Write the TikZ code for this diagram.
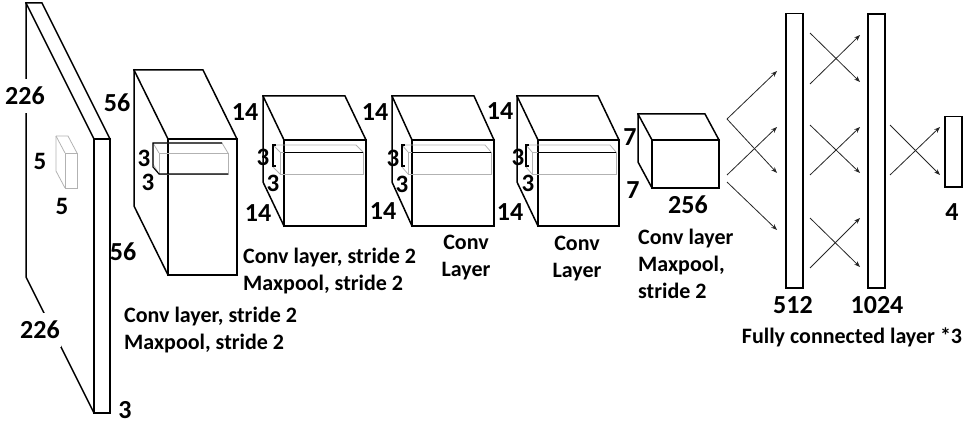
\documentclass[tikz,border=0pt]{standalone}
\usepackage{fontspec}
\setmainfont{Carlito}
\usetikzlibrary{arrows.meta}
\tikzset{
  edge/.style={line width=1.5pt, line join=miter, line cap=rect},
  filt/.style={gray!60, line width=0.8pt},
  filtdark/.style={black, line width=1.1pt},
  num/.style={font=\fontsize{26}{26}\selectfont\bfseries, inner sep=1pt},
  smallnum/.style={font=\fontsize{25}{25}\selectfont\bfseries, inner sep=0.5pt},
  txt/.style={font=\fontsize{22}{27}\selectfont\bfseries, inner sep=0pt},
  fc/.style={draw, line width=1.5pt, inner sep=0pt, anchor=north west},
  link/.style={line width=0.8pt, draw=black!85, -{Stealth[length=6pt,width=4.5pt]}},
}
% style, back-top-left x,y, front-top-left x,y, width, height
\newcommand{\mycuboid}[7]{%
  \draw[#1] (#2,#3) -- ({#2+#6},#3) -- ({#4+#6},#5);
  \draw[#1] (#2,#3) -- (#4,#5);
  \draw[#1] (#2,#3) -- (#2,{#3+#7}) -- (#4,{#5+#7});
  \draw[#1] (#4,#5) rectangle ({#4+#6},{#5+#7});
}
\begin{document}
\begin{tikzpicture}[x=1pt,y=-1pt]
\useasboundingbox (0,0) rectangle (966,425);

% input slab
\mycuboid{edge}{26}{3}{94}{139}{16}{274}
% input filter
\mycuboid{filt}{56}{136}{65}{153}{12}{35}

% conv volumes
\mycuboid{edge}{134}{70}{168}{139}{69}{136}
\mycuboid{edge}{263}{96}{284}{140}{82}{86}
\mycuboid{edge}{392}{96}{412}{140}{82}{86}
\mycuboid{edge}{517}{96}{538}{140}{81}{86}
\mycuboid{edge}{638}{114}{652}{140}{67}{48}

% filter in volume 1
\mycuboid{filt}{153}{143}{159}{153}{69}{21}
\draw[filtdark] (222,143) -- (153,143) -- (153,167) -- (159,174) -- (228,174);

% thin filters in volumes 2-4
\mycuboid{filt}{273}{145}{280}{152}{83}{22}
\draw[filtdark] (276,145) -- (273,145) -- (273,166) -- (276,166);
\draw[filtdark] (284,152.5) -- (363,152.5);
\mycuboid{filt}{402}{145}{408}{152}{83}{22}
\draw[filtdark] (405,145) -- (402,145) -- (402,166) -- (405,166);
\draw[filtdark] (412,152.5) -- (491,152.5);
\mycuboid{filt}{526}{145}{532}{152}{84}{22}
\draw[filtdark] (529,145) -- (526,145) -- (526,166) -- (529,166);
\draw[filtdark] (538,152.5) -- (616,152.5);

% labels input
\node[num, fill=white, inner ysep=8pt] (i226a) at (25,96) {226};
\node[num, fill=white, inner ysep=8pt] (i226b) at (40,330) {226};
\node[smallnum] (i5a) at (40,161) {5};
\node[smallnum] (i5b) at (62,206) {5};
\node[num] (i3) at (125,410) {3};
% labels volume 1
\node[num] (v56a) at (117,103) {56};
\node[num] (v56b) at (123,252) {56};
\node[smallnum] (v3a) at (144,158) {3};
\node[smallnum] (v3b) at (148,182) {3};
% labels volume 2
\node[num] (w14a) at (245,112) {14};
\node[smallnum] (w3a) at (263,157) {3};
\node[smallnum] (w3b) at (273,183) {3};
\node[num] (w14b) at (258,213) {14};
% labels volume 3
\node[num] (x14a) at (375,112) {14};
\node[smallnum] (x3a) at (393,158) {3};
\node[smallnum] (x3b) at (402,184) {3};
\node[num] (x14b) at (383,211) {14};
% labels volume 4
\node[num] (y14a) at (500,111) {14};
\node[smallnum] (y3a) at (518,157) {3};
\node[smallnum] (y3b) at (528,183) {3};
\node[num] (y14b) at (510,212) {14};
% labels volume 5
\node[num] (z7a) at (630,137) {7};
\node[num] (z7b) at (633,190) {7};
\node[num] (z256) at (688,205) {256};

% captions
\node[txt, align=left, anchor=west] (c1) at (124,330) {Conv layer, stride 2\\Maxpool, stride 2};
\node[txt, align=left, anchor=west] (c2) at (243,271) {Conv layer, stride 2\\Maxpool, stride 2};
\node[txt, align=center] (c3) at (466,258) {Conv\\Layer};
\node[txt, align=center] (c4) at (577,259) {Conv\\Layer};
\node[txt, align=left, anchor=west] (c5) at (638,264) {Conv layer\\Maxpool,\\stride 2};

% fully connected layers
\node[fc, minimum width=17pt, minimum height=274pt] (l512) at (785,13) {};
\node[fc, line width=2pt, minimum width=17pt, minimum height=274pt] (l1024) at (867,13) {};
\node[fc, minimum width=17pt, minimum height=70pt] (lout) at (944,116) {};
\node[num] (n512) at (793,305) {512};
\node[num] (n1024) at (877,305) {1024};
\node[num] (n4) at (952,212) {4};
\node[txt] (cfc) at (852,337) {Fully connected layer *3};

% connections
\draw[link] (727,119) -- (777,71);
\draw[link] (727,119) -- (777,173);
\draw[link] (727,175) -- (777,127);
\draw[link] (727,182) -- (777,230);

\draw[link] (810,33) -- (860,82);
\draw[link] (810,84) -- (860,35);
\draw[link] (810,125) -- (860,173);
\draw[link] (810,175) -- (860,127);
\draw[link] (810,218) -- (860,267);
\draw[link] (810,268) -- (860,218);

\draw[link] (890,125) -- (940,175);
\draw[link] (890,175) -- (940,127);
\end{tikzpicture}
\end{document}
